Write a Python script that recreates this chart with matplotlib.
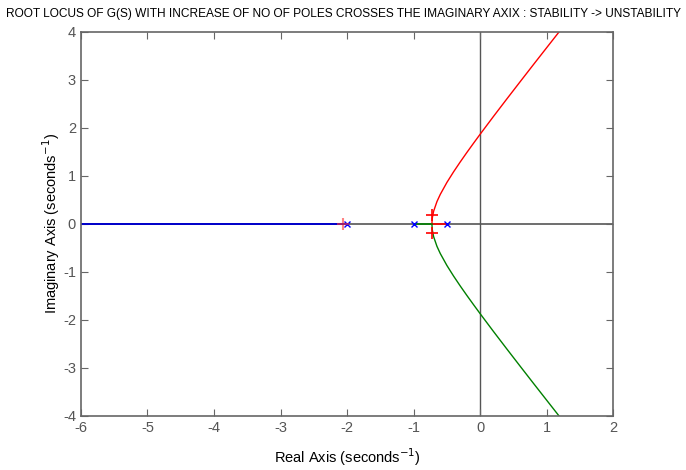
import numpy as np
import matplotlib.pyplot as plt

plt.rcParams['font.family'] = ['Liberation Sans Narrow', 'Liberation Sans', 'DejaVu Sans']
plt.rcParams['axes.unicode_minus'] = False

# open-loop poles
pole_re = [-0.5, -1.0, -2.0]
pole_im = [0.0, 0.0, 0.0]

# upper complex branch (real part, imaginary part)
branch_re = [-0.726, -0.72, -0.70, -0.65, -0.60, -0.50, -0.40, -0.30, -0.20,
             -0.10, 0.00, 0.20, 0.40, 0.60, 0.80, 1.00, 1.20]
branch_im = [0.000, 0.123, 0.265, 0.466, 0.616, 0.866, 1.086, 1.292, 1.490,
             1.682, 1.871, 2.241, 2.604, 2.963, 3.320, 3.674, 4.027]

# real-axis pieces of the locus
seg_red = [-0.5, -0.726]
seg_green = [-1.0, -0.726]
seg_blue = [-2.0, -6.0]

# closed-loop roots at the selected gain
sel_re = [-0.72, -0.72, -2.06]
sel_im = [0.18, -0.18, 0.0]

fig = plt.figure(figsize=(6.86, 4.70), dpi=100)
ax = fig.add_axes([0.118, 0.115, 0.776, 0.817])

ax.axhline(0, color='#555555', lw=1.2, zorder=1)
ax.axvline(0, color='#555555', lw=1.0, zorder=1)

ax.plot(seg_red, [0, 0], color='#ff0000', lw=1.2, zorder=2)
ax.plot(seg_green, [0, 0], color='#008000', lw=1.2, zorder=2)
ax.plot(seg_blue, [0, 0], color='#0000cc', lw=1.4, zorder=2)

ax.plot(branch_re, branch_im, color='#ff0000', lw=1.0, zorder=2)
ax.plot(branch_re, -np.array(branch_im), color='#008000', lw=1.0, zorder=2)

ax.plot(pole_re, pole_im, 'x', color='#0000ff', ms=5, mew=1.0, zorder=3)
ax.plot(sel_re[:2], sel_im[:2], '+', color='#ff0000', ms=9, mew=1.2, zorder=4)
ax.plot(sel_re[2:], sel_im[2:], '+', color='#ff3333', ms=9, mew=1.5, alpha=0.6, zorder=4)

ax.set_xlim(-6, 2)
ax.set_ylim(-4, 4)
ax.set_xticks(np.arange(-6, 3, 1))
ax.set_yticks(np.arange(-4, 5, 1))
ax.tick_params(direction='in', top=True, right=True, length=5,
               color='#666666', labelcolor='#555555', labelsize=10.5)
for s in ax.spines.values():
    s.set_color('#666666')
    s.set_linewidth(1.2)

ax.set_xlabel('Real Axis (seconds$^{-1}$)', fontsize=10.5, labelpad=8)
ax.set_ylabel('Imaginary Axis (seconds$^{-1}$)', fontsize=10.5)
ax.yaxis.set_label_coords(-0.035, 0.5)
fig.suptitle('ROOT LOCUS OF G(S) WITH INCREASE OF NO OF POLES CROSSES THE IMAGINARY AXIX : STABILITY -> UNSTABILITY',
             fontsize=8.6, y=0.982)

fig.savefig('out.png', dpi=100)
